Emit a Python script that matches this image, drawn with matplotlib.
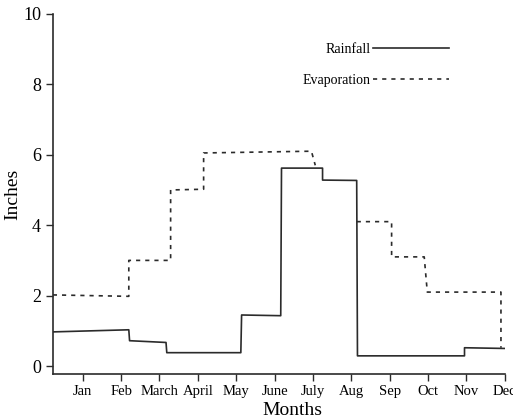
import numpy as np
import matplotlib.pyplot as plt

plt.rcParams['font.family'] = ['Liberation Serif', 'DejaVu Serif']

months = ['Jan', 'Feb', 'March', 'April', 'May', 'June', 'July', 'Aug', 'Sep', 'Oct', 'Nov', 'Dec']
month_pos = np.arange(1, 13)

# rainfall trace (x in month units, y in inches)
rain_x = [0.22, 2.2, 2.22, 3.17, 3.19, 5.12, 5.14, 6.16, 6.18, 7.25, 7.25, 8.14, 8.16, 10.95, 10.95, 12.0]
rain_y = [0.97, 1.03, 0.72, 0.67, 0.38, 0.38, 1.45, 1.43, 5.62, 5.62, 5.28, 5.27, 0.29, 0.29, 0.52, 0.5]

# evaporation trace, gap between July and Aug
evap_x = [0.22, 2.2, 2.2, 3.29, 3.29, 4.15, 4.15, 6.96, 7.06, np.nan, 8.14, 9.05, 9.05, 9.9, 9.98, 11.9, 11.9]
evap_y = [2.02, 1.98, 3.0, 3.0, 5.0, 5.02, 6.05, 6.1, 5.7, np.nan, 4.1, 4.1, 3.1, 3.1, 2.1, 2.1, 0.52]

fig = plt.figure(figsize=(5.13, 4.19), dpi=100)
ax = fig.add_axes([0.103, 0.107, 0.881, 0.86])

col = '#2b2b2b'
ax.plot(rain_x, rain_y, color=col, lw=1.2, label='Rainfall')
ax.plot(evap_x, evap_y, color=col, lw=1.2, ls=(0, (2.5, 3)), label='Evaporation')

ax.set_xlim(0.22, 12.0)
ax.set_ylim(-0.23, 10)
ax.set_xticks(month_pos)
ax.set_xticklabels(months, fontsize=10.5)
ax.set_yticks([0, 2, 4, 6, 8, 10])
ax.tick_params(axis='y', labelsize=13, length=5, color=col, width=1)
ax.tick_params(axis='x', length=5, color=col, width=1, pad=3)

for s in ['top', 'right']:
    ax.spines[s].set_visible(False)
for s in ['left', 'bottom']:
    ax.spines[s].set_color(col)
    ax.spines[s].set_linewidth(1.2)

ax.set_ylabel('Inches', fontsize=14)
ax.yaxis.set_label_coords(-0.07, 0.5)
ax.set_xlabel('Months', fontsize=14)
ax.xaxis.set_label_coords(0.53, -0.078)

ax.legend(loc='upper right', bbox_to_anchor=(0.905, 0.955), frameon=False,
          markerfirst=False, handlelength=5.5, fontsize=10, labelspacing=1.3,
          handletextpad=0.2)

fig.savefig('out.png', dpi=100)
